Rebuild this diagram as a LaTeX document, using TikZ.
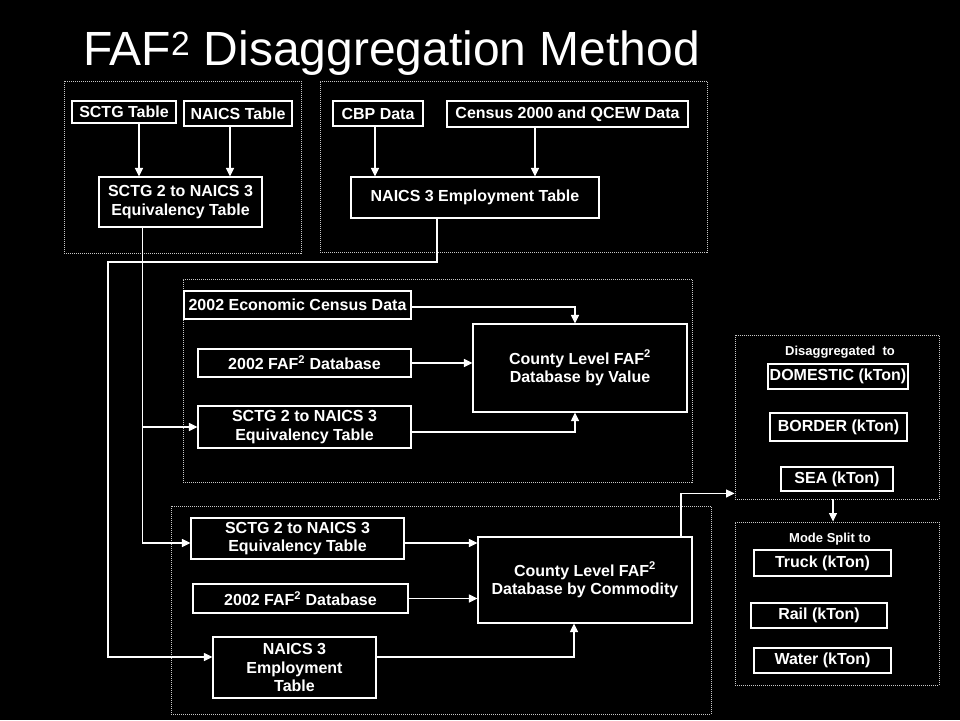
\documentclass[tikz,border=0pt]{standalone}
\usepackage{fontspec}
\setmainfont{Liberation Sans}
\usetikzlibrary{arrows.meta}
\definecolor{dotgray}{RGB}{200,200,200}
\newcommand\bxfont{\fontsize{16}{18.5}\selectfont\bfseries}
\newcommand\lblfont{\fontsize{13}{15}\selectfont\bfseries}
\begin{document}
\begin{tikzpicture}[x=1pt,y=-1pt,
  box/.style={draw=white, line width=1.1pt, fill=black, text=white, inner sep=1pt, align=center, font=\bxfont},
  group/.style={draw=dotgray, line width=0.9pt, dash pattern=on 1pt off 1pt, inner sep=0pt},
  conn/.style={draw=white, line width=1.1pt},
  arr/.style={conn, -{Triangle[length=8.5pt,width=8pt]}},
  lbl/.style={text=white, font=\lblfont, inner sep=0pt}]
\useasboundingbox (0,0) rectangle (960,720);
\fill[black] (0,0) rectangle (960,720);

% title
\node[anchor=base west, text=white, font=\fontsize{48}{56}\selectfont, inner sep=0pt] (title) at (83,65) {FAF\textsuperscript{2} Disaggregation Method};

% dotted groups
\node[group, minimum width=237pt, minimum height=172pt] (grpA) at (182.5,167) {};
\node[group, minimum width=387pt, minimum height=171pt] (grpB) at (513.5,166.5) {};
\node[group, minimum width=509pt, minimum height=203pt] (grpC) at (437.5,380.5) {};
\node[group, minimum width=540pt, minimum height=208pt] (grpD) at (441,610) {};
\node[group, minimum width=204pt, minimum height=164pt] (boxE) at (837,417) {};
\node[group, minimum width=204pt, minimum height=163pt] (boxF) at (837,603.5) {};

% top-left group
\node[box, minimum width=104pt, minimum height=22pt] (sctg) at (124,112) {SCTG Table};
\node[box, minimum width=108pt, minimum height=25pt] (naics) at (238,113.5) {NAICS Table};
\node[box, minimum width=163pt, minimum height=50pt] (eq1) at (180.5,202) {SCTG 2 to NAICS 3\\Equivalency Table};

% top-middle group
\node[box, minimum width=90pt, minimum height=25pt] (cbp) at (378,113.5) {CBP Data};
\node[box, minimum width=241pt, minimum height=26pt] (census) at (567.5,114) {Census 2000 and QCEW Data};
\node[box, minimum width=248pt, minimum height=41pt] (emp1) at (475,197.5) {NAICS 3 Employment Table};

% middle group
\node[box, minimum width=227pt, minimum height=28pt] (econ) at (297.5,305) {2002 Economic Census Data};
\node[box, minimum width=213pt, minimum height=28pt] (faf1) at (304.5,363) {2002 FAF\textsuperscript{2} Database};
\node[box, minimum width=213pt, minimum height=42pt] (sctg2) at (304.5,427) {SCTG 2 to NAICS 3\\Equivalency Table};
\node[box, minimum width=214pt, minimum height=88pt] (value) at (580,368) {County Level FAF\textsuperscript{2}\\Database by Value};

% bottom group
\node[box, minimum width=213pt, minimum height=41pt] (sctg3) at (297.5,538.5) {SCTG 2 to NAICS 3\\Equivalency Table};
\node[box, minimum width=215pt, minimum height=29pt] (faf2) at (300.5,598.5) {2002 FAF\textsuperscript{2} Database};
\node[box, minimum width=163pt, minimum height=61pt] (naics3) at (294.5,667.5) {NAICS 3\\Employment\\Table};
\node[box, minimum width=214pt, minimum height=86pt] (commodity) at (585,580) {County Level FAF\textsuperscript{2}\\Database by Commodity};

% right groups
\node[lbl] (dis) at (840,352) {Disaggregated\ \ to};
\node[box, minimum width=140pt, minimum height=25pt] (domestic) at (838,376.5) {DOMESTIC (kTon)};
\node[box, minimum width=137pt, minimum height=28pt] (border) at (838.5,427) {BORDER (kTon)};
\node[box, minimum width=112pt, minimum height=24pt] (sea) at (837,479) {SEA (kTon)};
\node[lbl] (mode) at (830,539) {Mode Split to};
\node[box, minimum width=137pt, minimum height=26pt] (truck) at (822.5,563) {Truck (kTon)};
\node[box, minimum width=136pt, minimum height=25pt] (rail) at (819,615.5) {Rail (kTon)};
\node[box, minimum width=137pt, minimum height=25pt] (water) at (822.5,660.5) {Water (kTon)};

% bus corner
\coordinate (bus) at (108,262);

% connectors
\draw[arr] ([xshift=15pt]sctg.south) -- ([xshift=15pt]sctg.south |- eq1.north);
\draw[arr] ([xshift=-8pt]naics.south) -- ([xshift=-8pt]naics.south |- eq1.north);
\draw[arr] ([xshift=-3pt]cbp.south) -- ([xshift=-3pt]cbp.south |- emp1.north);
\draw[arr] ([xshift=-32.5pt]census.south) -- ([xshift=-32.5pt]census.south |- emp1.north);

\draw[arr] ([xshift=-38pt]eq1.south) |- (sctg2.west);
\draw[arr] ([xshift=-38pt]eq1.south) |- ([yshift=-4.5pt]sctg3.west);

\draw[arr] ([xshift=-38pt]emp1.south) |- (bus) |- ([yshift=10.5pt]naics3.west);

\draw[arr] ([yshift=-2pt]econ.east) -| ([xshift=-5pt]value.north);
\draw[arr] (faf1.east) -- (faf1.east -| value.west);
\draw[arr] ([yshift=-5pt]sctg2.east) -| ([xshift=-5pt]value.south);

\draw[arr] ([yshift=-4.5pt]sctg3.east) -- ([yshift=-4.5pt]sctg3.east -| commodity.west);
\draw[arr] (faf2.east) -- (faf2.east -| commodity.west);
\draw[arr] ([yshift=10.5pt]naics3.east) -| ([xshift=-11pt]commodity.south);

\draw[arr] ([xshift=96pt]commodity.north) |- ([yshift=6pt]boxE.south west);
\draw[arr] ([xshift=-4pt]boxE.south) -- ([xshift=-4pt]boxF.north);
\end{tikzpicture}
\end{document}
